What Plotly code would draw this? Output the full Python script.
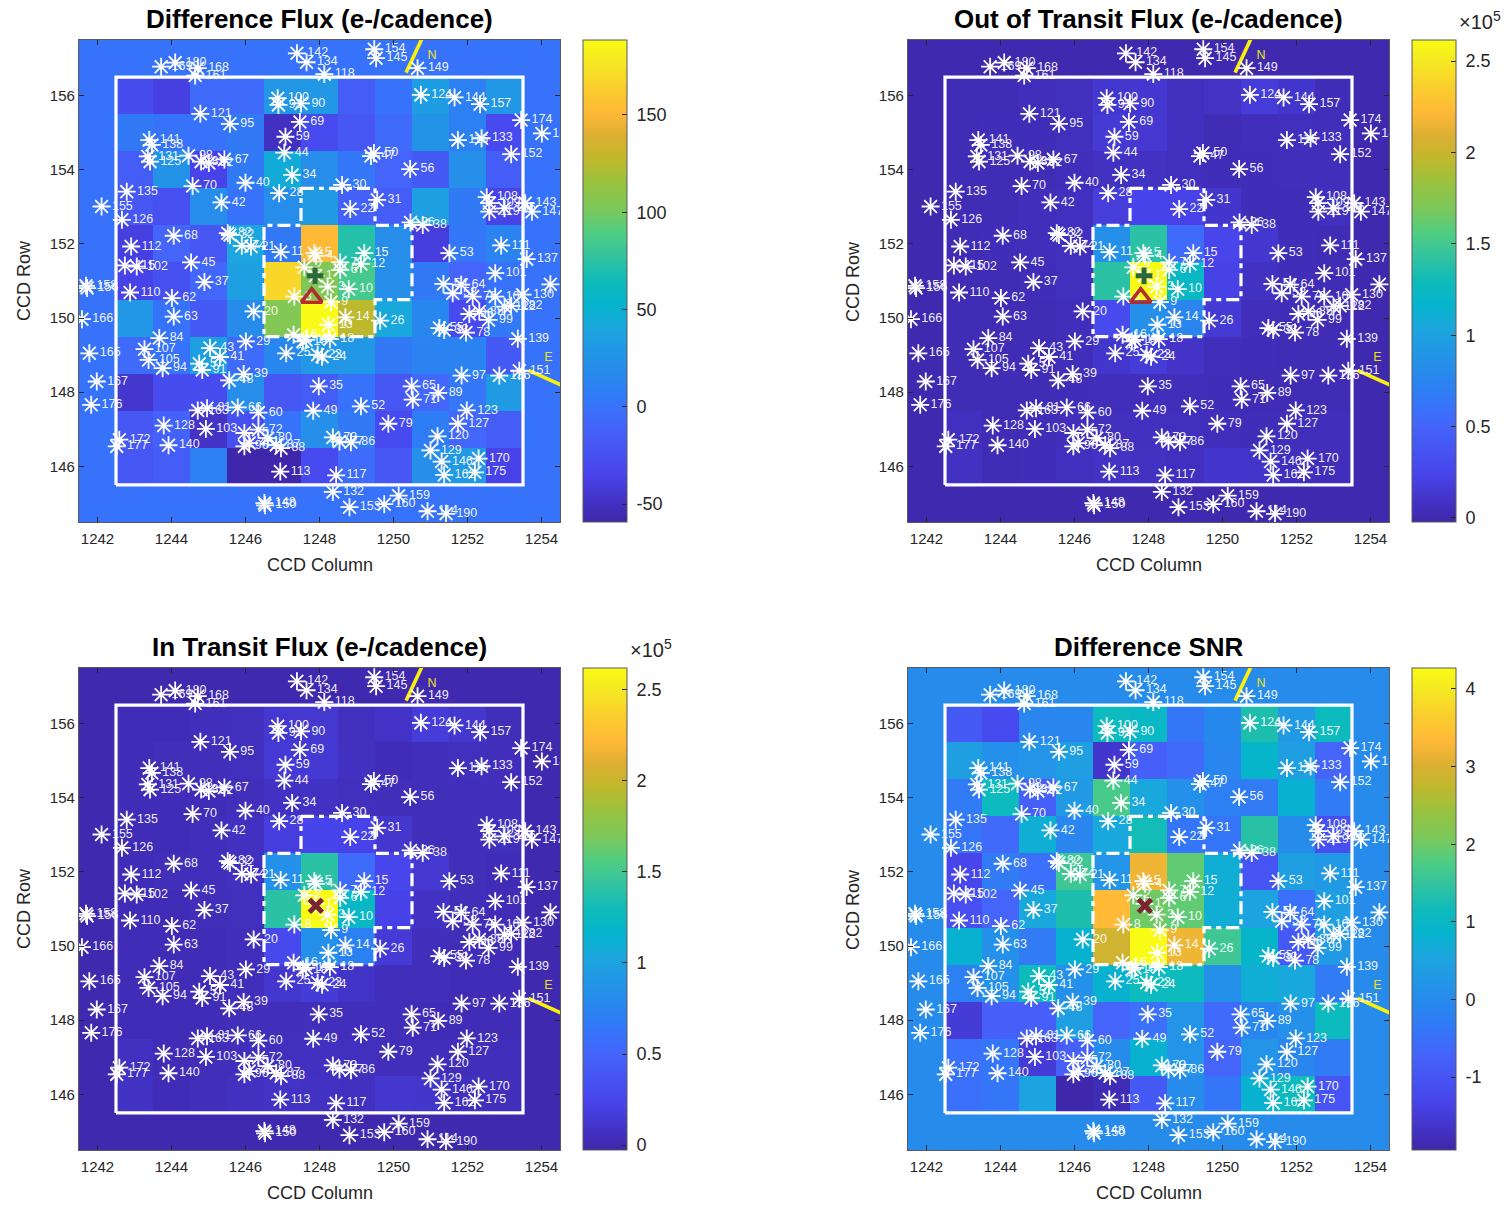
import plotly.graph_objects as go

FIG_W, FIG_H = 1510, 1206

columns = [1243, 1244, 1245, 1246, 1247, 1248, 1249, 1250, 1251, 1252, 1253]
rows = [156, 155, 154, 153, 152, 151, 150, 149, 148, 147, 146]

diff_flux = [
    [-28, -38, -5, -5, 28, 28, -15, 0, 33, 10, 28],
    [5, 0, 0, 5, -50, -30, -20, -5, 25, 10, -30],
    [-15, 25, -35, 5, 45, 20, 3, -10, -18, 22, -15],
    [-20, -25, 20, 0, 20, 32, -12, -15, 35, 5, -35],
    [-38, -10, -20, 40, 5, 151, 72, 20, -40, 3, 12],
    [-35, -25, -8, 35, 168, 104, 85, 22, 5, -10, 0],
    [28, 0, -18, 18, 105, 188, 126, 42, 15, -30, 5],
    [-5, 0, 35, -5, 15, 28, 28, 5, 12, 12, -18],
    [-45, -28, -28, 20, -20, -15, 0, -20, -8, 3, 32],
    [-20, -12, -48, -25, 0, 22, 5, -30, 8, -8, -15],
    [-20, -15, 10, -58, -58, -30, -5, -20, 22, 30, -35],
]
out_flux = [
    [.03, .03, .05, .06, .13, .13, .06, .09, .17, .12, .04],
    [.03, .04, .04, .06, .15, .14, .07, .03, .05, .06, .05],
    [.03, .03, .03, .05, .08, .08, .06, .04, .04, .05, .05],
    [.03, .03, .05, .07, .18, .24, .23, .12, .04, .04, .06],
    [.03, .04, .05, .07, .85, 1.40, .55, .25, .13, .04, .03],
    [.03, .03, .04, .06, 1.40, 2.60, 1.22, .22, .08, .04, .03],
    [.03, .03, .03, .05, .30, .85, .75, .15, .05, .04, .03],
    [.03, .03, .03, .05, .12, .16, .10, .05, .04, .03, .03],
    [.03, .03, .03, .04, .05, .05, .05, .04, .03, .03, .03],
    [.07, .03, .04, .05, .06, .07, .06, .05, .04, .05, .05],
    [.08, .03, .04, .07, .09, .08, .07, .12, .11, .06, .05],
]
in_flux = [
    [.03, .03, .05, .06, .13, .13, .06, .09, .17, .12, .04],
    [.03, .04, .04, .06, .15, .14, .07, .03, .05, .06, .05],
    [.03, .03, .03, .05, .08, .08, .06, .04, .04, .05, .05],
    [.03, .03, .05, .07, .18, .24, .23, .12, .04, .04, .06],
    [.03, .04, .05, .07, .85, 1.40, .55, .25, .13, .04, .03],
    [.03, .03, .04, .06, 1.40, 2.62, 1.22, .22, .08, .04, .03],
    [.03, .03, .03, .05, .28, .85, .72, .15, .05, .04, .03],
    [.03, .03, .03, .05, .12, .16, .10, .05, .04, .03, .03],
    [.03, .03, .03, .04, .05, .05, .05, .04, .03, .03, .03],
    [.07, .03, .04, .05, .06, .07, .06, .05, .04, .05, .05],
    [.08, .03, .04, .07, .09, .08, .07, .12, .11, .06, .05],
]
diff_snr = [
    [-.9, -1.2, -.1, -.1, 1.1, 1.0, -.4, -.05, 1.3, .3, 1.1],
    [.4, .1, .2, .4, -1.6, -.8, -.6, -.1, .9, .4, -.7],
    [-.3, 1.1, -.8, .3, 1.7, .6, .1, -.2, -.3, .8, -.3],
    [-.4, -.6, .7, -.1, .6, 1.2, -.4, -.4, 1.4, 0, -1.1],
    [-1.3, -.3, -.5, 1.6, .2, 3.2, 1.9, .7, -1.0, .4, .3],
    [-1.1, -.7, .6, 1.3, 3.35, 2.0, 1.9, .7, .5, -.5, .4],
    [.8, .1, -.3, .8, 2.9, 4.27, 3.2, 1.6, .9, -.9, .3],
    [-.2, .1, 1.1, .1, .8, 1.1, 1.1, .1, .7, .6, -.3],
    [-1.5, -.8, -.8, .4, -.7, -.5, .2, -.6, -.1, .1, 1.1],
    [-.5, -.4, -1.5, -.8, 0, .8, .2, -.7, .2, -.1, -.3],
    [-.5, -.4, .5, -1.9, -1.8, -.9, 0, -.4, .8, 1.1, -1.0],
]

star_labels = [154, 145, 149, 142, 134, 118, 180, 168, 169, 161, 100, 93, 90, 69, 59, 44, 34, 28, 121, 95,
               141, 138, 131, 125, 98, 83, 92, 67, 70, 40, 42, 135, 155, 126, 68, 82, 32, 74, 21, 112,
               11, 5, 4, 2, 7, 6, 15, 12, 1, 3, 8, 10, 9, 14, 13, 16, 19, 17, 18, 23,
               24, 25, 20, 29, 26, 22, 30, 31, 36, 38, 50, 47, 56, 124, 144, 157, 174, 183, 116, 133,
               152, 108, 109, 106, 119, 143, 147, 53, 111, 137, 101, 54, 64, 58, 76, 104, 130, 182, 122, 85,
               96, 99, 78, 55, 33, 139, 151, 136, 97, 65, 71, 89, 123, 127, 52, 79, 120, 129, 146, 162,
               170, 175, 86, 73, 77, 49, 35, 60, 66, 81, 163, 128, 140, 103, 172, 177, 72, 75, 96, 46,
               80, 87, 88, 113, 117, 132, 153, 160, 159, 114, 190, 148, 150, 158, 156, 110, 62, 63, 166, 37,
               45, 115, 102, 84, 107, 105, 94, 43, 41, 57, 91, 39, 48, 165, 167, 176, 171]
star_cols = [1249.48, 1249.53, 1250.65, 1247.39, 1247.65, 1248.13, 1244.10, 1244.71, 1243.72, 1244.64, 1246.87, 1246.89, 1247.50, 1247.47, 1247.08, 1247.05, 1247.26, 1246.91, 1244.78, 1245.58,
             1243.40, 1243.47, 1243.36, 1243.42, 1244.46, 1244.80, 1245.01, 1245.43, 1244.57, 1246.00, 1245.35, 1242.79, 1242.11, 1242.66, 1244.06, 1245.52, 1245.58, 1245.90, 1246.15, 1242.91,
             1246.95, 1247.86, 1247.91, 1247.59, 1248.56, 1248.56, 1249.21, 1249.12, 1247.89, 1248.22, 1247.32, 1248.79, 1248.31, 1248.70, 1248.24, 1247.30, 1247.55, 1247.64, 1248.28, 1247.95,
             1248.07, 1247.10, 1246.22, 1246.01, 1249.64, 1248.83, 1248.61, 1249.56, 1250.46, 1250.79, 1249.47, 1249.39, 1250.45, 1250.74, 1251.65, 1252.34, 1253.45, 1254.01, 1251.74, 1252.38,
             1253.18, 1252.52, 1252.59, 1253.00, 1252.59, 1253.56, 1253.74, 1251.51, 1252.91, 1253.60, 1252.75, 1251.35, 1251.83, 1251.60, 1252.14, 1252.75, 1253.49, 1253.18, 1253.00, 1252.32,
             1252.05, 1252.57, 1251.96, 1251.24, 1251.37, 1253.36, 1253.40, 1252.86, 1251.84, 1250.49, 1250.52, 1251.21, 1251.98, 1251.74, 1249.12, 1249.86, 1251.19, 1251.00, 1251.30, 1251.37,
             1252.30, 1252.20, 1248.85, 1248.36, 1248.54, 1247.83, 1247.98, 1246.35, 1245.79, 1244.96, 1244.71, 1243.79, 1243.92, 1244.93, 1242.59, 1242.52, 1246.35, 1245.97, 1245.97, 1246.10,
             1246.60, 1246.83, 1246.96, 1246.94, 1248.45, 1248.36, 1248.81, 1249.75, 1250.14, 1250.92, 1251.42, 1246.51, 1246.53, 1241.69, 1241.72, 1242.88, 1244.01, 1244.06, 1241.58, 1244.89,
             1244.53, 1242.74, 1243.06, 1243.67, 1243.27, 1243.38, 1243.76, 1245.04, 1245.31, 1244.75, 1244.83, 1245.95, 1245.56, 1241.78, 1241.98, 1241.83, 1254.24]
star_rows = [157.25, 157.01, 156.74, 157.14, 156.90, 156.58, 156.89, 156.74, 156.78, 156.54, 155.93, 155.75, 155.79, 155.29, 154.89, 154.46, 153.86, 153.37, 155.51, 155.24,
             154.80, 154.67, 154.36, 154.22, 154.38, 154.22, 154.18, 154.28, 153.56, 153.65, 153.12, 153.41, 153.01, 152.65, 152.22, 152.29, 152.24, 151.95, 151.93, 151.93,
             151.78, 151.75, 151.68, 151.37, 151.50, 151.30, 151.75, 151.46, 151.14, 150.85, 150.58, 150.78, 150.43, 150.02, 149.82, 149.55, 149.37, 149.41, 149.43, 149.01,
             148.96, 149.05, 150.18, 149.37, 149.93, 152.94, 153.59, 153.19, 152.58, 152.51, 154.45, 154.37, 154.02, 156.02, 155.95, 155.77, 155.34, 154.98, 154.80, 154.85,
             154.42, 153.26, 153.10, 152.96, 152.87, 153.10, 152.87, 151.75, 151.96, 151.59, 151.21, 150.92, 150.90, 150.67, 150.58, 150.58, 150.63, 150.33, 150.31, 150.18,
             150.11, 149.95, 149.61, 149.73, 149.68, 149.44, 148.58, 148.45, 148.45, 148.16, 147.80, 147.98, 147.51, 147.15, 147.62, 147.15, 146.81, 146.43, 146.13, 145.77,
             146.21, 145.84, 146.65, 146.78, 146.67, 147.50, 148.16, 147.45, 147.59, 147.57, 147.51, 147.10, 146.57, 147.01, 146.72, 146.54, 146.99, 146.90, 146.54, 146.63,
             146.76, 146.58, 146.49, 145.86, 145.76, 145.31, 144.90, 144.98, 145.21, 144.79, 144.72, 145.01, 144.95, 150.87, 150.81, 150.69, 150.54, 150.04, 149.97, 150.97,
             151.50, 151.42, 151.39, 149.46, 149.16, 148.87, 148.65, 149.19, 148.95, 148.77, 148.60, 148.49, 148.32, 149.05, 148.29, 147.66, 150.91]

aperture_cols = [1247.5, 1249.5, 1249.5, 1250.5, 1250.5, 1249.5, 1249.5, 1246.5, 1246.5, 1247.5, 1247.5]
aperture_rows = [153.5, 153.5, 152.5, 152.5, 150.5, 150.5, 149.5, 149.5, 152.5, 152.5, 153.5]

north_cols, north_rows = [1250.34, 1250.78], [156.62, 157.56]
east_cols, east_rows = [1253.65, 1254.56], [148.59, 148.18]
north_text = (1251.04, 157.07)
east_text = (1254.19, 148.92)

centroid_ootf = (1247.88, 151.14)
centroid_diff = (1247.79, 150.55)
centroid_cat = (1247.90, 151.09)

x_ticks = [1242, 1244, 1246, 1248, 1250, 1252, 1254]
y_ticks = [146, 148, 150, 152, 154, 156]

# fraction, colour
parula = [
    [0.00, "rgb(62,38,168)"], [0.10, "rgb(72,68,235)"], [0.20, "rgb(68,100,250)"], [0.24, "rgb(55,115,250)"],
    [0.30, "rgb(40,135,238)"], [0.40, "rgb(28,165,222)"], [0.45, "rgb(5,180,205)"], [0.50, "rgb(15,187,185)"],
    [0.55, "rgb(50,195,160)"], [0.60, "rgb(80,205,130)"], [0.65, "rgb(125,200,90)"], [0.70, "rgb(150,195,65)"],
    [0.75, "rgb(190,185,45)"], [0.80, "rgb(220,175,50)"], [0.85, "rgb(255,185,55)"], [0.90, "rgb(250,205,45)"],
    [0.95, "rgb(245,230,35)"], [1.00, "rgb(249,251,21)"],
]

FONT = "Liberation Sans"
DARK = "rgb(38,38,38)"
PAD = "\u00a0"

panels = [
    dict(title="Difference Flux (e-/cadence)", z=diff_flux, box=(79, 40, 560, 522), cb=583,
         zr=(-59.2, 188.5), ticks=[-50, 0, 50, 100, 150], labels=["-50", "0", "50", "100", "150"], exp=None, top=True),
    dict(title="Out of Transit Flux (e-/cadence)", z=out_flux, box=(908, 40, 1389, 522), cb=1412,
         zr=(-0.022, 2.615), ticks=[0, .5, 1, 1.5, 2, 2.5], labels=["0", "0.5", "1", "1.5", "2", "2.5"], exp=(1480, 21), top=True),
    dict(title="In Transit Flux (e-/cadence)", z=in_flux, box=(79, 668, 560, 1150), cb=583,
         zr=(-0.027, 2.62), ticks=[0, .5, 1, 1.5, 2, 2.5], labels=["0", "0.5", "1", "1.5", "2", "2.5"], exp=(651, 648), top=False),
    dict(title="Difference SNR", z=diff_snr, box=(908, 668, 1389, 1150), cb=1412,
         zr=(-1.94, 4.27), ticks=[-1, 0, 1, 2, 3, 4], labels=["-1", "0", "1", "2", "3", "4"], exp=None, top=False),
]

fig = go.Figure()
layout = dict(width=FIG_W, height=FIG_H, autosize=False, margin=dict(l=0, r=0, t=0, b=0),
              paper_bgcolor="white", plot_bgcolor="white", showlegend=False,
              font=dict(family=FONT, color=DARK))
annotations = []

full_cols = [columns[0] - 1] + columns + [columns[-1] + 1]
full_rows = [rows[0] + 1] + rows + [rows[-1] - 1]

for i, p in enumerate(panels):
    n = "" if i == 0 else str(i + 1)
    xa, ya, ca = "x" + n, "y" + n, "coloraxis" + n
    left, top, right, bottom = p["box"]
    zfull = [[0] * 13] + [[0] + r + [0] for r in p["z"]] + [[0] * 13]
    fig.add_trace(go.Heatmap(x=full_cols, y=full_rows, z=zfull, coloraxis=ca, xaxis=xa, yaxis=ya, hoverinfo="skip"))
    c0, c1 = columns[0] - .5, columns[-1] + .5
    r0, r1 = rows[-1] - .5, rows[0] + .5
    fig.add_trace(go.Scatter(x=[c0, c1, c1, c0, c0], y=[r0, r0, r1, r1, r0], mode="lines",
                             line=dict(color="white", width=3.2), xaxis=xa, yaxis=ya))
    fig.add_trace(go.Scatter(x=aperture_cols, y=aperture_rows, mode="lines",
                             line=dict(color="white", width=3.2, dash="13px,5px,5px,5px"), xaxis=xa, yaxis=ya))
    fig.add_trace(go.Scatter(x=north_cols, y=north_rows, mode="lines", line=dict(color="rgb(250,240,10)", width=3.6), xaxis=xa, yaxis=ya))
    fig.add_trace(go.Scatter(x=east_cols, y=east_rows, mode="lines", line=dict(color="rgb(250,240,10)", width=3.6), xaxis=xa, yaxis=ya))
    fig.add_trace(go.Scatter(x=[north_text[0], east_text[0]], y=[north_text[1], east_text[1]], text=["N", "E"], mode="text",
                             textfont=dict(color="rgb(235,225,20)", size=12.5, family=FONT), xaxis=xa, yaxis=ya))
    fig.add_trace(go.Scatter(x=star_cols, y=star_rows, text=[str(s) for s in star_labels], mode="markers+text",
                             textposition="middle right",
                             textfont=dict(color="rgba(255,255,255,0.93)", size=12.5, family=FONT),
                             marker=dict(symbol="asterisk-open", size=15, color="white", line=dict(color="white", width=1.8)),
                             xaxis=xa, yaxis=ya))
    if p["top"]:
        fig.add_trace(go.Scatter(x=[centroid_ootf[0]], y=[centroid_ootf[1]], mode="markers",
                                 marker=dict(symbol="cross-thin-open", size=12, color="rgb(44,105,55)", line=dict(color="rgb(44,105,55)", width=5)),
                                 xaxis=xa, yaxis=ya))
        fig.add_trace(go.Scatter(x=[centroid_diff[0]], y=[centroid_diff[1]], mode="markers",
                                 marker=dict(symbol="triangle-up-open", size=18, color="rgb(178,45,45)", line=dict(color="rgb(178,45,45)", width=3.6)),
                                 xaxis=xa, yaxis=ya))
    else:
        fig.add_trace(go.Scatter(x=[centroid_cat[0]], y=[centroid_cat[1]], mode="markers",
                                 marker=dict(symbol="x-thin-open", size=13, color="rgb(122,38,48)", line=dict(color="rgb(122,38,48)", width=5)),
                                 xaxis=xa, yaxis=ya))

    axis = dict(mirror="ticks", ticks="inside", ticklen=5, tickwidth=1, tickcolor=DARK, showline=True, linecolor="rgb(90,90,90)",
                linewidth=1.2, showgrid=False, zeroline=False, tickfont=dict(size=15, family=FONT, color=DARK))
    layout["xaxis" + n] = dict(axis, domain=[left / FIG_W, right / FIG_W], range=[1241.5, 1254.5], anchor=ya,
                               tickvals=x_ticks, ticktext=[str(t) for t in x_ticks], ticklabelstandoff=3)
    layout["yaxis" + n] = dict(axis, domain=[1 - bottom / FIG_H, 1 - top / FIG_H], range=[144.5, 157.5], anchor=xa,
                               tickvals=y_ticks, ticktext=[str(t) for t in y_ticks])
    layout[ca] = dict(colorscale=parula, cmin=p["zr"][0], cmax=p["zr"][1],
                      colorbar=dict(x=p["cb"] / FIG_W, xanchor="left", xpad=0, ypad=0, thickness=44, thicknessmode="pixels",
                                    y=1 - bottom / FIG_H, yanchor="bottom", len=(bottom - top) / FIG_H, lenmode="fraction",
                                    outlinecolor="rgb(90,90,90)", outlinewidth=1, ticks="inside", ticklen=5, tickcolor=DARK,
                                    tickvals=p["ticks"], ticktext=[PAD + t for t in p["labels"]], tickfont=dict(size=18, family=FONT, color=DARK)))
    annotations.append(dict(xref="paper", yref="paper", x=(left + right) / 2 / FIG_W, y=1 - (top - 21) / FIG_H, text="<b>%s</b>" % p["title"],
                            showarrow=False, font=dict(family=FONT, size=26, color="black"), xanchor="center", yanchor="middle"))
    annotations.append(dict(xref="paper", yref="paper", x=(left + right) / 2 / FIG_W, y=1 - (bottom + 43) / FIG_H, text="CCD Column",
                            showarrow=False, font=dict(family=FONT, size=18, color=DARK), xanchor="center", yanchor="middle"))
    annotations.append(dict(xref="paper", yref="paper", x=(left - 55) / FIG_W, y=1 - (top + bottom) / 2 / FIG_H, text="CCD Row", textangle=-90,
                            showarrow=False, font=dict(family=FONT, size=18, color=DARK), xanchor="center", yanchor="middle"))
    if p["exp"]:
        annotations.append(dict(xref="paper", yref="paper", x=p["exp"][0] / FIG_W, y=1 - p["exp"][1] / FIG_H, text="×10<sup>5</sup>",
                                showarrow=False, font=dict(family=FONT, size=20, color=DARK), xanchor="center", yanchor="middle"))

layout["annotations"] = annotations
fig.update_layout(**layout)
fig.write_html("out.html", config={"displayModeBar": False},
               post_script="document.body.style.margin='0';document.body.style.overflow='hidden';")
